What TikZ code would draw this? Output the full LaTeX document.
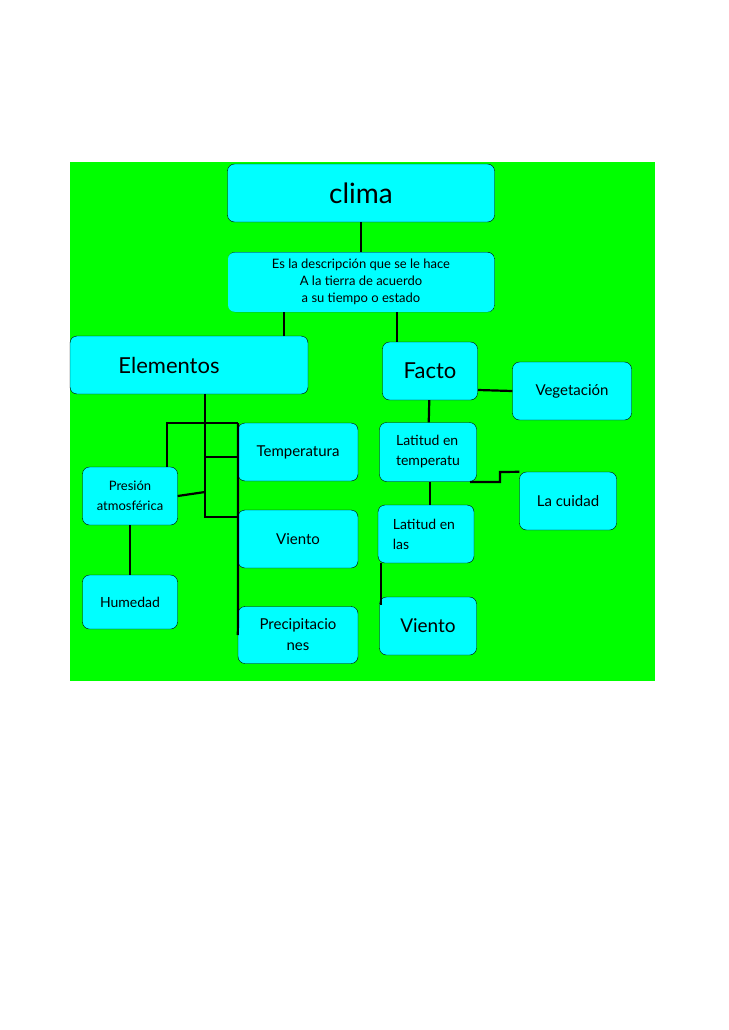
\documentclass[tikz,border=0pt]{standalone}
\usepackage{fontspec}
\setmainfont{Lato}
\definecolor{fondo}{RGB}{0, 255, 0}
\definecolor{caja}{RGB}{0, 255, 255}
\usetikzlibrary{positioning}

\begin{document}
\begin{tikzpicture}[x=1pt, y=-1pt,
    box/.style={rectangle, rounded corners=7pt, draw, fill=caja, inner sep=2pt, align=center},
    link/.style={line width=2.2pt}]
    \useasboundingbox (0,0) rectangle (728,1030);
    \fill[white] (0,0) rectangle (728,1030);
    \fill[fondo] (70,162) rectangle (655,681);

    % Top
    \node[box, minimum width=267pt, minimum height=58pt, font=\fontsize{28}{30}\selectfont] (clima) at (361,193) {clima};
    \begin{scope}
        \clip[rounded corners=7pt] (228,252) rectangle (495,312);
        \node[box, minimum width=267pt, minimum height=60pt, anchor=north, font=\fontsize{13}{17}\selectfont] (desc) at (361,252) {Es la descripción que se le hace\\A la tierra de acuerdo\\a su tiempo o estado};
    \end{scope}

    % Elementos
    \node[box, minimum width=238pt, minimum height=58pt, font=\fontsize{22}{24}\selectfont] (elementos) at (189,365) {\hspace*{-40pt}Elementos};
    \node[box, minimum width=120pt, minimum height=58pt, font=\fontsize{15}{18}\selectfont] (temp) at (298,452) {Temperatura};
    \node[box, minimum width=120pt, minimum height=58pt, font=\fontsize{15}{18}\selectfont] (viento) at (298,539) {Viento};
    \node[box, minimum width=120pt, minimum height=57pt, font=\fontsize{15}{21}\selectfont] (precip) at (298,635) {Precipitacio\\nes};
    \node[box, minimum width=95pt, minimum height=58pt, font=\fontsize{13}{20}\selectfont] (presion) at (130,496) {Presión\\atmosférica};
    \node[box, minimum width=95pt, minimum height=54pt, font=\fontsize{14}{18}\selectfont] (humedad) at (130,602) {Humedad};

    % Factores
    \node[box, minimum width=95pt, minimum height=58pt, font=\fontsize{22}{24}\selectfont] (facto) at (430,371) {Facto};
    \node[box, minimum width=119pt, minimum height=58pt, font=\fontsize{15}{18}\selectfont] (vegetacion) at (572,391) {Vegetación};
    \node[box, minimum width=97pt, minimum height=59pt, align=left, font=\fontsize{14}{20}\selectfont] (lattemp) at (428,452) {Latitud en\\temperatu};
    \node[box, minimum width=97pt, minimum height=58pt, font=\fontsize{15}{18}\selectfont] (cuidad) at (568,501) {La cuidad};
    \node[box, minimum width=96pt, minimum height=58pt, align=left, font=\fontsize{14}{20}\selectfont] (latlas) at (426,534) {Latitud en\\las\hspace*{50pt}};
    \node[box, minimum width=97pt, minimum height=58pt, font=\fontsize{19}{22}\selectfont] (viento2) at (428,626) {Viento};

    % Connectors
    \draw[link] (clima) -- (desc);
    \draw[link] (284,312) -- (284,336);
    \draw[link] (397,312) -- (397,342);
    \draw[link] (205,394) -- (205,517) -- (238,517);
    \draw[link] (167,467) -- (167,423) -- (238,423);
    \draw[link] (205,457) -- (238,457);
    \draw[link] (presion.east) -- (205,492);
    \draw[link] (238,423) -- (238,620) -- (precip.west);
    \draw[link] (presion) -- (humedad);
    \draw[link] (facto) -- (lattemp);
    \draw[link] (478,390) -- (vegetacion.west);
    \draw[link] (470,482) -- (500,482) -- (500,472) -- (cuidad.north west);
    \draw[link] (430,482) -- (430,505);
    \draw[link] (381,563) -- (381,605);
\end{tikzpicture}
\end{document}
